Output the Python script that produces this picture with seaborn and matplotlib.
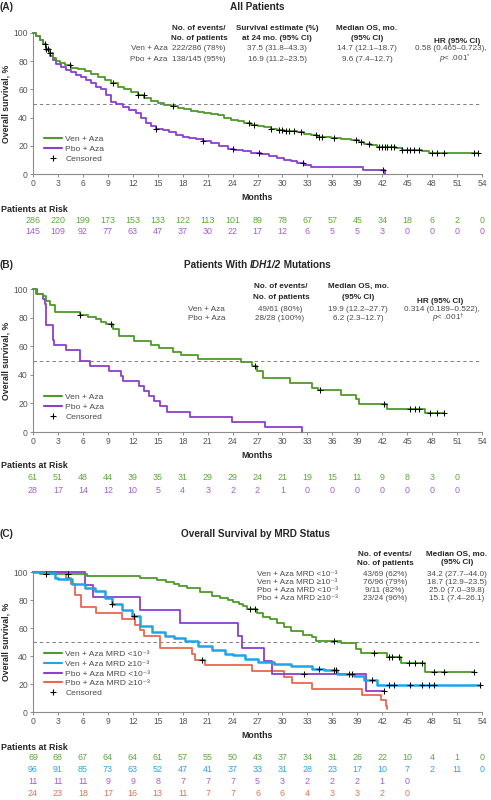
import numpy as np
import pandas as pd
import matplotlib
matplotlib.use("Agg")
import matplotlib.pyplot as plt
import seaborn as sns
from matplotlib.transforms import blended_transform_factory
from matplotlib.lines import Line2D

sns.set_theme(style="white")
plt.rcParams['font.family'] = ['Liberation Sans', 'DejaVu Sans']
plt.rcParams['mathtext.fontset'] = 'custom'
plt.rcParams['mathtext.rm'] = 'Liberation Sans'
plt.rcParams['mathtext.it'] = 'Liberation Sans:italic'
plt.rcParams['mathtext.bf'] = 'Liberation Sans:bold'

# ---------------- data ----------------
month_ticks = list(range(0, 55, 3))
y_ticks = [0, 20, 40, 60, 80, 100]

# Panel A
a_ven_t = [0, 0.4, 0.8, 1.2, 1.6, 2.0, 2.4, 2.8, 3.2, 3.8, 4.6, 5.4, 6.2, 7.0, 7.8, 8.6, 9.4, 10.2, 11.0, 11.8,
           12.6, 13.4, 14.2, 15.0, 15.8, 16.6, 17.4, 18.2, 19.0, 19.8, 20.6, 21.4, 22.2, 23.0, 23.8, 24.6, 25.4,
           26.2, 27.0, 27.8, 28.6, 29.4, 30.2, 31.8, 32.6, 33.4, 34.2, 35.8, 37.0, 38.2, 39.2, 39.8, 40.6, 41.4,
           43.6, 44.4, 46.8, 47.6]
a_ven_s = [100, 98, 95, 92, 89, 85.5, 82.5, 80, 78.5, 77, 75.5, 74.5, 73, 71, 69, 67, 64.5, 62, 60, 58,
           56, 54, 52, 50.5, 49, 48, 47, 46, 45, 44.2, 43.3, 42.5, 41.5, 40, 38.5, 37.3, 36,
           35, 34, 33, 32, 31.2, 30.5, 29.8, 28.5, 27.5, 26.3, 25.5, 24.7, 23.8, 22.5, 21.5, 20.5, 19.5,
           18.5, 17.2, 16.3, 15.2]
a_ven_end = 53.5
a_ven_cens = [1.4, 1.6, 1.8, 2.0, 4.5, 9.6, 12.6, 13.3, 16.8, 26.0, 26.6, 28.6, 29.6, 30.0, 30.4, 30.8, 31.4,
              32.2, 34.0, 34.4, 34.8, 36.2, 38.8, 39.4, 40.4, 41.6, 42.0, 42.3, 42.6, 43.0, 43.4, 44.4, 45.0,
              45.4, 45.8, 46.4, 48.0, 48.6, 49.4, 53.0, 53.5]
a_pbo_t = [0, 0.4, 0.8, 1.2, 1.6, 2.0, 2.4, 2.8, 3.4, 4.0, 4.6, 5.2, 5.8, 6.4, 7.0, 7.6, 8.2, 8.8, 9.4, 10.0,
           10.8, 11.6, 12.4, 13.0, 13.6, 14.2, 14.8, 15.6, 16.4, 17.2, 18.0, 18.8, 19.6, 20.4, 21.4, 22.4, 23.4,
           24.2, 25.2, 26.2, 27.4, 28.4, 29.4, 30.2, 31.0, 31.8, 32.6, 33.4, 39.7, 42.3]
a_pbo_s = [100, 98, 95, 92, 88, 84, 80.5, 78, 76, 74, 72, 70, 68.5, 66.5, 64.5, 62, 60, 56, 51, 49.5,
           47.5, 45.5, 43.5, 40, 36.5, 34, 32, 31, 29.5, 28, 26.5, 25.5, 24.5, 23.5, 22, 20, 18,
           17, 16, 15, 14, 12.5, 11, 10, 9, 8, 6.5, 5.2, 2.8, 0]
a_pbo_end = 42.3
a_pbo_cens = [14.8, 20.4, 24.0, 27.2, 32.5, 42.1]
a_risk_ven = [286, 220, 199, 173, 153, 133, 122, 113, 101, 89, 78, 67, 57, 45, 34, 18, 6, 2, 0]
a_risk_pbo = [145, 109, 92, 77, 63, 47, 37, 30, 22, 17, 12, 6, 5, 5, 3, 0, 0, 0, 0]

# Panel B
b_ven_t = [0, 0.4, 1.2, 1.6, 2.0, 2.6, 5.6, 6.6, 7.6, 8.2, 8.8, 9.6, 10.4, 12.2, 14.2, 15.2, 16.8, 17.8, 19.8,
           25.0, 26.3, 26.9, 27.7, 30.9, 33.5, 34.3, 37.0, 38.8, 39.2, 42.6, 47.2]
b_ven_s = [100, 96.7, 95.1, 91.8, 88.5, 83.6, 82.0, 80.3, 78.7, 77.0, 75.4, 72.1, 67.2, 63.9, 60.7, 59.0, 55.7,
           54.1, 50.8, 49.2, 45.9, 42.6, 37.7, 34.4, 31.1, 29.5, 26.2, 23.0, 19.7, 16.4, 13.1]
b_ven_end = 49.4
b_ven_cens = [5.6, 9.4, 26.7, 34.5, 42.2, 45.4, 46.0, 46.4, 47.8, 48.6, 49.4]
b_pbo_t = [0, 0.5, 1.2, 1.4, 1.6, 2.4, 2.5, 4.0, 5.6, 6.8, 9.2, 10.6, 10.8, 12.8, 13.4, 14.0, 14.6, 15.3, 16.1,
           18.9, 23.9, 27.9, 32.3]
b_pbo_s = [100, 96.4, 92.9, 89.3, 75.0, 64.3, 60.7, 57.1, 50.0, 46.4, 42.9, 39.3, 35.7, 32.1, 28.6, 25.0, 21.4,
           17.9, 14.3, 10.7, 7.1, 3.6, 0]
b_pbo_end = 32.3
b_pbo_cens = []
b_risk_ven = [61, 51, 48, 44, 39, 35, 31, 29, 29, 24, 21, 19, 15, 11, 9, 8, 3, 0]
b_risk_pbo = [28, 17, 14, 12, 10, 5, 4, 3, 2, 2, 1, 0, 0, 0, 0, 0, 0, 0]

# Panel C
c_vn_t = [0, 0.8, 6.5, 12.9, 14.9, 16.0, 16.9, 17.6, 18.5, 20.1, 21.5, 22.5, 23.5, 24.1, 24.8, 25.3, 25.7, 26.9,
          27.7, 28.5, 29.3, 30.2, 31.0, 32.5, 33.5, 34.0, 37.0, 38.8, 39.4, 42.6, 44.2, 47.2]
c_vn_s = [100, 98.6, 97.1, 95.7, 94.2, 92.8, 91.3, 89.9, 88.4, 85.5, 82.6, 81.2, 79.7, 78.3, 76.8, 75.4, 73.9,
          71.0, 68.1, 66.7, 63.8, 60.9, 58.0, 55.1, 53.6, 50.7, 49.2, 44.8, 42.0, 39.1, 34.8, 28.9]
c_vn_end = 53.0
c_vn_cens = [1.6, 4.2, 26.1, 26.7, 36.2, 41.0, 42.8, 43.2, 44.0, 45.2, 46.0, 46.8, 48.2, 49.4, 53.0]
c_vp_t = [0, 1.6, 2.6, 3.0, 4.7, 6.3, 7.5, 8.7, 9.5, 10.7, 11.9, 12.9, 14.3, 15.9, 17.0, 18.3, 19.9, 21.5, 23.1,
          24.1, 25.5, 27.1, 29.0, 31.0, 33.5, 35.0, 36.6, 38.6, 39.8, 41.4]
c_vp_s = [100, 99.0, 95.8, 94.8, 91.7, 88.5, 86.5, 81.3, 77.1, 72.9, 68.8, 61.5, 57.0, 54.5, 53.0, 50.5, 47.5,
          44.5, 41.5, 40.5, 38.0, 36.0, 34.1, 32.8, 30.8, 30.0, 27.5, 25.5, 22.8, 19.5]
c_vp_end = 53.7
c_vp_cens = [9.5, 12.1, 34.4, 36.2, 36.4, 38.0, 38.4, 40.8, 42.8, 43.4, 45.4, 46.8, 47.6, 48.2, 53.7]
c_pn_t = [0, 6.3, 7.2, 12.9, 17.7, 24.7, 25.1, 27.8, 28.8, 40.0]
c_pn_s = [100, 90.9, 81.8, 72.7, 63.6, 54.5, 45.5, 36.4, 27.3, 15.0]
c_pn_end = 42.2
c_pn_cens = [32.6, 42.2]
c_pp_t = [0, 4.0, 4.6, 5.0, 5.8, 7.6, 10.7, 12.3, 12.9, 13.3, 15.3, 19.1, 19.5, 20.7, 26.3, 30.2, 31.2, 33.6,
          39.6, 41.8, 42.4, 42.6]
c_pp_s = [100, 95.8, 91.7, 83.3, 75.0, 70.8, 66.7, 62.5, 58.3, 54.2, 45.8, 41.7, 37.5, 33.3, 29.2, 25.0, 20.8,
          16.7, 12.5, 8.3, 4.2, 2.0]
c_pp_end = 42.6
c_pp_cens = [20.3]
c_risk_vn = [69, 68, 67, 64, 64, 61, 57, 55, 50, 43, 37, 34, 31, 26, 22, 10, 4, 1, 0]
c_risk_vp = [96, 91, 85, 73, 63, 52, 47, 41, 37, 33, 31, 28, 23, 17, 10, 7, 2, 11, 0]
c_risk_pn = [11, 11, 11, 9, 9, 8, 7, 7, 7, 5, 3, 2, 2, 2, 1, 0]
c_risk_pp = [24, 23, 18, 17, 16, 13, 11, 7, 7, 6, 6, 4, 3, 3, 2, 0]

c_names = ["Ven + Aza MRD <10⁻³", "Ven + Aza MRD ≥10⁻³", "Pbo + Aza MRD <10⁻³", "Pbo + Aza MRD ≥10⁻³"]
c_ev = ["43/69 (62%)", "76/96 (79%)", "9/11 (82%)", "23/24 (96%)"]
c_med = ["34.2 (27.7–44.0)", "18.7 (12.9–23.5)", "25.0 (7.0–39.8)", "15.1 (7.4–26.1)"]

# ---------------- style ----------------
GREEN = "#4e9a2b"
PURPLE = "#8b3fcf"
BLUE = "#1ea5e6"
RED = "#e8674f"
GREEN_T = "#5fa83a"
PURPLE_T = "#a45fd0"
BLUE_T = "#2fa6e0"
RED_T = "#e0735a"
DARK = "#262626"
GREY = "#4a4a4a"
AX = "#8c8c8c"

FS_TITLE = 7.2
FS_TAB = 5.9
FS_TICK = 6.2
FS_RISK = 6.4
FS_LEG = 6.1
FS_LAB = 6.3

W, H = 491, 800
fig = plt.figure(figsize=(W / 100, H / 100), dpi=100)


def fy(px):
    return 1 - px / H


def fx(px):
    return px / W


def make_axes(top_px, bot_px):
    ax = fig.add_axes([fx(33), fy(bot_px), fx(482) - fx(33), (bot_px - top_px) / H])
    ax.set_xlim(0, 54)
    ax.set_ylim(0, 100)
    ax.set_xticks(month_ticks)
    ax.set_yticks(y_ticks)
    for s in ["top", "right"]:
        ax.spines[s].set_visible(False)
    for s in ["left", "bottom"]:
        ax.spines[s].set_color(AX)
        ax.spines[s].set_linewidth(0.8)
    ax.tick_params(axis="both", length=2.5, width=0.7, color=AX, labelsize=FS_TICK,
                   labelcolor="#555555", pad=1.2, bottom=True, left=True)
    ax.axhline(50, color="#808080", lw=0.7, ls=(0, (3.5, 3)), zorder=1)
    ax.set_facecolor("none")
    return ax


def km(ax, t, s, end, cens, color, lw=1.3, z=3):
    tt = list(t) + ([end] if end > t[-1] else [])
    ss = list(s) + ([s[-1]] if end > t[-1] else [])
    df = pd.DataFrame({"t": tt, "s": ss})
    sns.lineplot(data=df, x="t", y="s", ax=ax, color=color, lw=lw, drawstyle="steps-post",
                 estimator=None, sort=False, legend=False, clip_on=False, zorder=z)
    if cens:
        ta = np.array(t)
        idx = np.searchsorted(ta, np.array(cens), side="right") - 1
        cy = np.array(s)[idx]
        sns.scatterplot(x=cens, y=cy, ax=ax, marker="+", color="black", s=13, linewidth=0.75,
                        zorder=z + 5, clip_on=False, legend=False)
    ax.set_xlabel("")
    ax.set_ylabel("")


def risk(ax, y_head, rows):
    fig.text(fx(1), fy(y_head), "Patients at Risk", fontsize=FS_RISK, fontweight="bold", color=DARK,
             ha="left", va="center")
    trans = blended_transform_factory(ax.transData, fig.transFigure)
    for ypx, vals, col in rows:
        for m, v in zip(month_ticks, vals):
            fig.text(m, fy(ypx), str(v), transform=trans, ha="center", va="center", fontsize=FS_RISK,
                     color=col)


def labels(ax, top_px, bot_px, months_px):
    fig.text(fx(6), fy((top_px + bot_px) / 2), "Overall survival, %", rotation=90, fontsize=FS_LAB,
             fontweight="bold", color=DARK, ha="center", va="center")
    fig.text(fx(257.5), fy(months_px), "Months", fontsize=FS_LAB, fontweight="bold", color=DARK,
             ha="center", va="center")


def legend(entries, top_px):
    handles = []
    for lab, col in entries:
        if col is None:
            handles.append(Line2D([], [], color="black", marker="+", ls="none", markersize=4,
                                  markeredgewidth=0.8, label=lab))
        else:
            handles.append(Line2D([], [], color=col, lw=1.5, label=lab))
    lg = fig.legend(handles=handles, loc="upper left", bbox_to_anchor=(fx(44), fy(top_px)),
                    frameon=False, fontsize=FS_LEG, handlelength=2.1, handletextpad=0.4,
                    labelspacing=0.22, borderpad=0, borderaxespad=0)
    for tx in lg.get_texts():
        tx.set_color(GREY)


def t(x, y, s, ha="center", bold=False, color=GREY, size=FS_TAB):
    fig.text(fx(x), fy(y), s, ha=ha, va="center", fontsize=size, color=color,
             fontweight="bold" if bold else "normal")


def hdr(x, y, s, ha="center"):
    t(x, y, s, ha=ha, bold=True, color=DARK)


# ---------------- Panel A ----------------
axA = make_axes(33, 174)
km(axA, a_pbo_t, a_pbo_s, a_pbo_end, a_pbo_cens, PURPLE)
km(axA, a_ven_t, a_ven_s, a_ven_end, a_ven_cens, GREEN, z=4)
t(0, 7, "(A)", ha="left", bold=True, color=DARK, size=FS_TITLE)
t(257, 7, "All Patients", bold=True, color=DARK, size=FS_TITLE)
hdr(199, 28, "No. of events/")
hdr(199, 38, "No. of patients")
hdr(277, 28, "Survival estimate (%)")
hdr(277, 38, "at 24 mo. (95% CI)")
hdr(367, 28, "Median OS, mo.")
hdr(367, 38, "(95% CI)")
hdr(457, 41.5, "HR (95% CI)")
t(168, 48.5, "Ven + Aza", ha="right")
t(168, 59.5, "Pbo + Aza", ha="right")
t(199, 48.5, "222/286 (78%)")
t(199, 59.5, "138/145 (95%)")
t(277, 48.5, "37.5 (31.8–43.3)")
t(277, 59.5, "16.9 (11.2–23.5)")
t(367, 48.5, "14.7 (12.1–18.7)")
t(367, 59.5, "9.6 (7.4–12.7)")
t(451, 48.5, "0.58 (0.465–0.723),")
t(455, 59.5, r"$p$< .001$^{*}$")
labels(axA, 33, 174, 197)
legend([("Ven + Aza", GREEN), ("Pbo + Aza", PURPLE), ("Censored", None)], 135)
risk(axA, 209, [(220.5, a_risk_ven, GREEN_T), (232, a_risk_pbo, PURPLE_T)])

# ---------------- Panel B ----------------
axB = make_axes(289, 432)
km(axB, b_pbo_t, b_pbo_s, b_pbo_end, b_pbo_cens, PURPLE)
km(axB, b_ven_t, b_ven_s, b_ven_end, b_ven_cens, GREEN, z=4)
t(0, 265, "(B)", ha="left", bold=True, color=DARK, size=FS_TITLE)
parts = [("Patients With ", "normal"), ("IDH1/2", "italic"), (" Mutations", "normal")]
objs = [fig.text(0, fy(265), p, ha="left", va="center", fontsize=FS_TITLE, fontweight="bold",
                 fontstyle=st, color=DARK) for p, st in parts]
fig.canvas.draw()
rend = fig.canvas.get_renderer()
widths = [o.get_window_extent(rend).width for o in objs]
x0 = 257 - sum(widths) / 2
for o, w in zip(objs, widths):
    o.set_x(fx(x0))
    x0 += w
hdr(281, 286, "No. of events/")
hdr(281, 297, "No. of patients")
hdr(358, 286, "Median OS, mo.")
hdr(358, 297, "(95% CI)")
hdr(440, 301.5, "HR (95% CI)")
t(188, 309.5, "Ven + Aza", ha="left")
t(188, 318.5, "Pbo + Aza", ha="left")
t(280, 309.5, "49/61 (80%)")
t(280, 318.5, "28/28 (100%)")
t(358, 309.5, "19.9 (12.2–27.7)")
t(358, 318.5, "6.2 (2.3–12.7)")
t(442, 309.5, "0.314 (0.189–0.522),")
t(448, 318.5, r"$p$< .001$^{\dagger}$")
labels(axB, 289, 432, 455)
legend([("Ven + Aza", GREEN), ("Pbo + Aza", PURPLE), ("Censored", None)], 393)
risk(axB, 466, [(478, b_risk_ven, GREEN_T), (490, b_risk_pbo, PURPLE_T)])

# ---------------- Panel C ----------------
axC = make_axes(572, 712)
km(axC, c_pp_t, c_pp_s, c_pp_end, c_pp_cens, RED, z=3)
km(axC, c_pn_t, c_pn_s, c_pn_end, c_pn_cens, PURPLE, z=4)
km(axC, c_vn_t, c_vn_s, c_vn_end, c_vn_cens, GREEN, z=5)
km(axC, c_vp_t, c_vp_s, c_vp_end, c_vp_cens, BLUE, lw=1.8, z=6)
t(0, 534, "(C)", ha="left", bold=True, color=DARK, size=FS_TITLE)
t(256, 534, "Overall Survival by MRD Status", bold=True, color=DARK, size=FS_TITLE)
hdr(385, 555, "No. of events/")
hdr(385, 563.5, "No. of patients")
hdr(457, 554, "Median OS, mo.")
hdr(457, 562.5, "(95% CI)")
for i, yy in enumerate([574.5, 582.5, 590.5, 598.5]):
    t(257, yy, c_names[i], ha="left")
    t(385, yy, c_ev[i])
    t(457, yy, c_med[i])
labels(axC, 572, 712, 735)
legend([(c_names[0], GREEN), (c_names[1], BLUE), (c_names[2], PURPLE), (c_names[3], RED),
        ("Censored", None)], 650)
risk(axC, 747, [(758, c_risk_vn, GREEN_T), (770, c_risk_vp, BLUE_T),
                (782, c_risk_pn, PURPLE_T), (794, c_risk_pp, RED_T)])

fig.savefig("out.png", dpi=100)
